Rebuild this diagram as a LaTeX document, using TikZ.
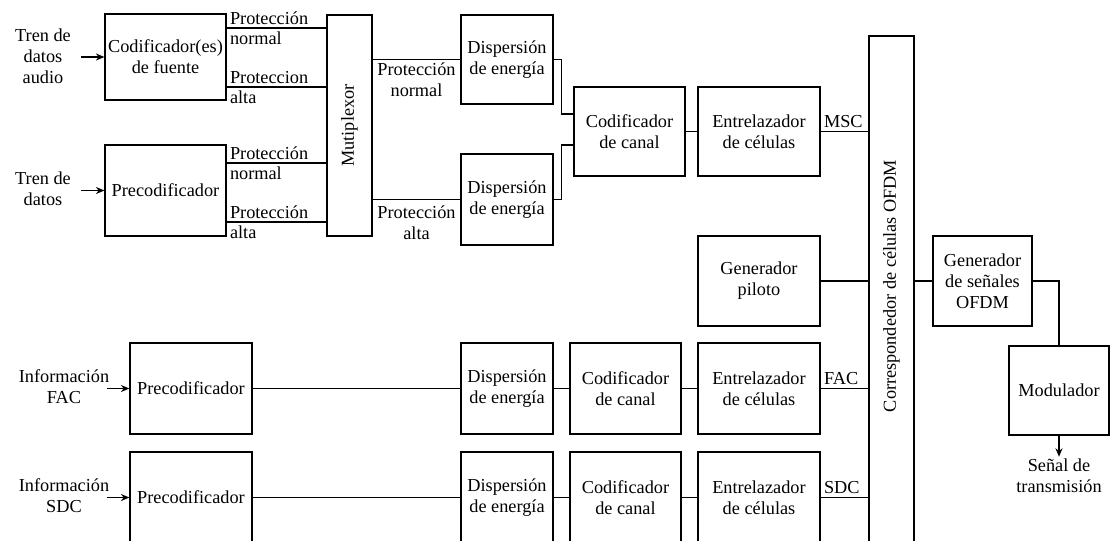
\documentclass[tikz,border=0pt]{standalone}
\usepackage{fontspec}
\setmainfont{Liberation Serif}
\usetikzlibrary{positioning,arrows.meta}

\begin{document}
\begin{tikzpicture}[
    x=0.025cm, y=-0.025cm,
    font=\fontsize{13}{15}\selectfont,
    bloque/.style 2 args={draw, line width=0.9pt, align=center, inner sep=2pt,
        minimum width=#1*0.025cm, minimum height=#2*0.025cm},
    entrada/.style={align=center, inner sep=0pt},
    etq/.style={inner sep=2pt},
    linea/.style={line width=0.8pt},
    flecha/.style={-{Stealth[length=6pt,width=5pt]}, line width=0.9pt}
]
\clip[use as bounding box] (0,0) rectangle (1111,540);

% Fuentes de datos
\node[bloque={121}{86}] (fuente) at (165.5,57) {Codificador(es)\\de fuente};
\node[bloque={121}{91}] (precod) at (165.5,190.5) {Precodificador};
\node[entrada] (trena) at (43,56) {Tren de\\datos\\audio};
\node[entrada] (trenb) at (43,189) {Tren de\\datos};
\draw[flecha, shorten <=7pt] (trena.east |- fuente.west) -- (fuente.west);
\draw[flecha, shorten <=7pt] (trenb.east |- precod.west) -- (precod.west);

% Multiplexor
\node[bloque={45}{221}] (mux) at (349.5,125.5) {};
\node[rotate=90] (muxtxt) at (mux) {Mutiplexor};
\foreach \src/\yy/\arriba/\abajo in {fuente/28/Protección/normal, fuente/87/Proteccion/alta,
    precod/163/Protección/normal, precod/222/Protección/alta}
    \draw[linea] (\src.east |- 0,\yy) node[etq, above right] {\arriba}
        node[etq, below right] {\abajo} -- (mux.west |- 0,\yy);

% Camino MSC
\node[bloque={92}{89}] (dispa) at (507,59.5) {Dispersión\\de energía};
\node[bloque={92}{91}] (dispb) at (507,199.5) {Dispersión\\de energía};
\node[bloque={111}{89}] (codmsc) at (629.5,131.5) {Codificador\\de canal};
\node[bloque={122}{89}] (entmsc) at (759,131.5) {Entrelazador\\de células};
\draw[linea] (mux.east |- dispa.west) -- node[etq, below, align=center] {Protección\\normal} (dispa.west);
\draw[linea] (mux.east |- dispb.west) -- node[below, inner sep=4pt, align=center] {Protección\\alta} (dispb.west);
\draw[linea] (dispa.east) -- ++(8,0) |- (codmsc.west |- 0,114);
\draw[linea] (dispb.east) -- ++(8,0) |- (codmsc.west |- 0,145);
\draw[linea] (codmsc) -- (entmsc);

% Correspondedor y salida
\node[bloque={45}{524}] (corr) at (891.5,298) {};
\node[rotate=90] (corrtxt) at (891.5,286) {Correspondedor de células OFDM};
\node[bloque={122}{90}] (piloto) at (759,281) {Generador\\piloto};
\node[bloque={99}{90}] (genofdm) at (982.5,281) {Generador\\de señales\\OFDM};
\node[bloque={100}{89}] (mod) at (1059,390.5) {Modulador};
\node[entrada, inner sep=1pt, below=15pt of mod] (senal) {Señal de\\transmisión};
\draw[linea] (entmsc.east) node[etq, above right] {MSC} -- (corr.west |- entmsc.east);
\draw[linea] (piloto.east) -- (corr.west |- piloto.east);
\draw[linea] (corr.east |- genofdm.west) -- (genofdm.west);
\draw[linea] (genofdm.east) -| (mod.north);
\draw[flecha] (mod.south) -- (senal.north);

% Caminos FAC y SDC
\foreach \fila/\yy/\etiq in {fac/388.5/FAC, sdc/497.5/SDC}
{
    \node[bloque={122}{91}] (pre\fila) at (191,\yy) {Precodificador};
    \node[bloque={92}{91}] (disp\fila) at (507,\yy) {Dispersión\\de energía};
    \node[bloque={111}{91}] (cod\fila) at (625.5,\yy) {Codificador\\de canal};
    \node[bloque={122}{91}] (ent\fila) at (759,\yy) {Entrelazador\\de células};
    \node[entrada] (inf\fila) at (64,\yy-2) {Información\\\etiq};
    \draw[flecha] ([xshift=-2pt]inf\fila.east |- pre\fila.west) -- (pre\fila.west);
    \draw[linea] (pre\fila) -- (disp\fila) -- (cod\fila) -- (ent\fila);
    \draw[linea] (ent\fila.east) node[etq, above right] {\etiq} -- (corr.west |- ent\fila.east);
}

\end{tikzpicture}
\end{document}
